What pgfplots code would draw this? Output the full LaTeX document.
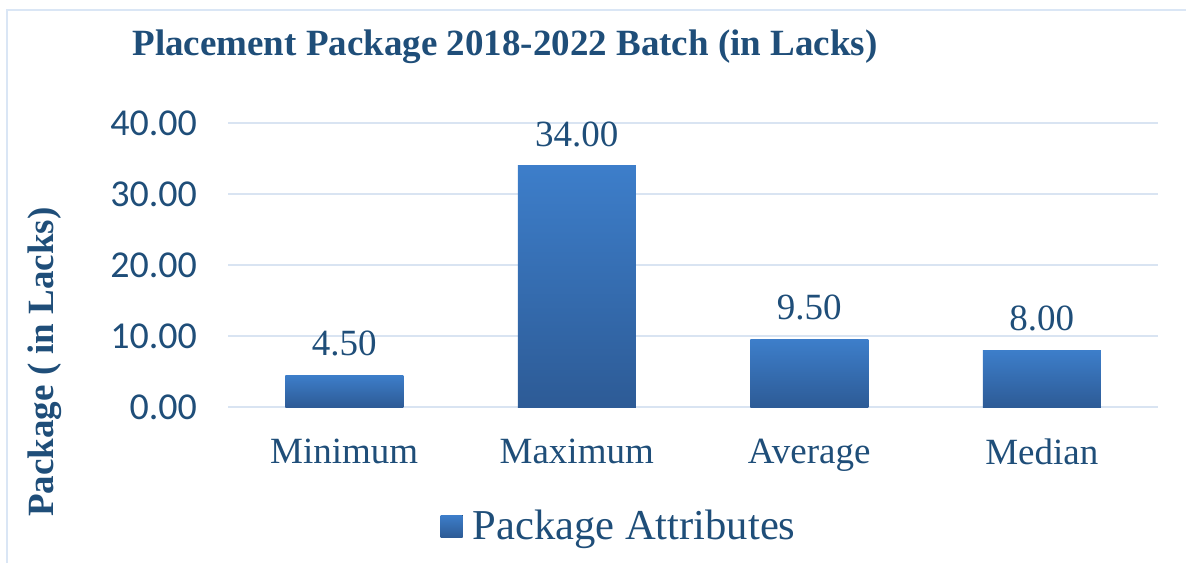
\documentclass[border=0pt]{standalone}
\usepackage{pgfplots}
\pgfplotsset{compat=1.18}
\usepackage{fontspec}
\setmainfont{Liberation Serif}
\newfontfamily\carlito{Carlito}
\definecolor{txt}{RGB}{31,78,121}
\definecolor{barTop}{RGB}{61,126,202}
\definecolor{barBot}{RGB}{45,91,150}
\definecolor{gridc}{RGB}{217,228,242}
\definecolor{framec}{RGB}{218,230,245}
\begin{document}
\begin{tikzpicture}
\useasboundingbox (0,0) rectangle (593pt,-281.5pt);
\draw[framec, line width=1.2pt] (3.5pt,-281.5pt) -- (3.5pt,-5pt) -- (593pt,-5pt);
\node[font=\bfseries\fontsize{18.5}{20}\selectfont, text=txt] at (252.5pt,-23.5pt) {Placement Package 2018-2022 Batch (in Lacks)};
\node[font=\bfseries\fontsize{18.5}{20}\selectfont, text=txt, rotate=90] at (22.5pt,-181pt) {Package ( in Lacks)};
\begin{axis}[
  scale only axis,
  width=465pt, height=142pt,
  at={(114pt,-203.5pt)}, anchor=south west,
  xmin=-0.5, xmax=3.5, ymin=0, ymax=40,
  ytick={0,10,20,30,40},
  xtick={0,1,2,3},
  xticklabels={Minimum,Maximum,Average,Median},
  axis line style={draw=none},
  major tick style={draw=none},
  ymajorgrids,
  grid style={gridc, line width=1pt},
  yticklabel style={font=\carlito\fontsize{19}{20}\selectfont, text=txt, xshift=-12pt},
  /pgf/number format/assume math mode=true,
  yticklabel={\pgfmathprintnumber[fixed,fixed zerofill,precision=2]{\tick}},
  xticklabel style={font=\fontsize{18.5}{20}\selectfont, text=txt, yshift=-8pt},
  ybar, bar width=59pt,
  nodes near coords,
  nodes near coords style={font=\fontsize{18.5}{20}\selectfont, text=txt, anchor=south, yshift=6pt,
     /pgf/number format/.cd, fixed, fixed zerofill, precision=2, assume math mode=true},
  legend style={at={(0.4215,-0.419)}, anchor=center, draw=none, fill=none,
     font=\fontsize{21.3}{22}\selectfont, text=txt},
  legend image code/.code={\fill[top color=barTop,bottom color=barBot] (0pt,-5.5pt) rectangle (11pt,5.5pt);
     \path (0pt,0pt) -- (14pt,0pt);},
]
\addplot[draw=none, top color=barTop, bottom color=barBot, bar shift=0pt] coordinates {(0,4.5)};
\addlegendentry{Package Attributes}
\addplot[forget plot, draw=none, top color=barTop, bottom color=barBot, bar shift=0pt] coordinates {(1,34)};
\addplot[forget plot, draw=none, top color=barTop, bottom color=barBot, bar shift=0pt] coordinates {(2,9.5)};
\addplot[forget plot, draw=none, top color=barTop, bottom color=barBot, bar shift=0pt] coordinates {(3,8)};
\end{axis}
\end{tikzpicture}
\end{document}
